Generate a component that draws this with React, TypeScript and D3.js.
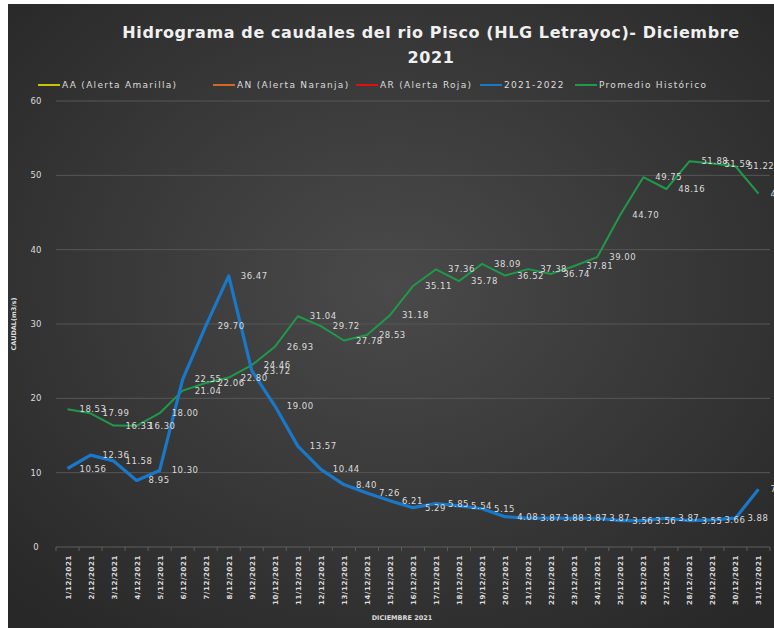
import React from 'react';
import * as d3 from 'd3';

const dias = d3.range(1, 32).map(d => `${d}/12/2021`);

const serie2021 = [
  10.56, 12.36, 11.58, 8.95, 10.3, 22.55, 29.7, 36.47, 23.72, 19.0, 13.57,
  10.44, 8.4, 7.26, 6.21, 5.29, 5.85, 5.54, 5.15, 4.08, 3.87, 3.88, 3.87,
  3.87, 3.56, 3.56, 3.87, 3.55, 3.66, 3.88, 7.76
];

const promedioHistorico = [
  18.53, 17.99, 16.33, 16.3, 18.0, 21.04, 22.06, 22.8, 24.46, 26.93, 31.04,
  29.72, 27.78, 28.53, 31.18, 35.11, 37.36, 35.78, 38.09, 36.52, 37.38, 36.74,
  37.81, 39.0, 44.7, 49.75, 48.16, 51.88, 51.59, 51.22, 47.53
];

const yTicks = [0, 10, 20, 30, 40, 50, 60];

const leyenda = [
  { nombre: 'AA (Alerta Amarilla)', color: '#c9c400' },
  { nombre: 'AN (Alerta Naranja)', color: '#d2691e' },
  { nombre: 'AR (Alerta Roja)', color: '#e01010' },
  { nombre: '2021-2022', color: '#1a78c8' },
  { nombre: 'Promedio Histórico', color: '#1e9a4a' }
];

const W = 774;
const H = 628;
const FONT = '"DejaVu Sans", sans-serif';
const LABEL = '#dcdcdc';

export default function App() {
  const margin = { top: 101, right: 4, bottom: 81, left: 56 };

  const x = d3.scaleBand<string>()
    .domain(dias)
    .range([margin.left, W - margin.right]);
  const cx = (i: number) => (x(dias[i]) as number) + x.bandwidth() / 2;

  const y = d3.scaleLinear()
    .domain([0, 60])
    .range([H - margin.bottom, margin.top]);

  const line = d3.line<number>()
    .x((_, i) => cx(i))
    .y(d => y(d));

  // legend layout (line sample + text)
  const legendX = [38, 213, 356, 480, 575];

  return (
    <div style={{ position: 'absolute', left: 0, top: 0 }}>
      <svg width={W} height={H} style={{ display: 'block' }}>
        <defs>
          <radialGradient id="bg" cx="50%" cy="45%" r="70%">
            <stop offset="0%" stopColor="#4a4a4a" />
            <stop offset="100%" stopColor="#282828" />
          </radialGradient>
        </defs>
        <rect x={0} y={0} width={W} height={H} fill="#ffffff" />
        <rect x={8} y={4} width={W - 8} height={H - 4} fill="url(#bg)" />

        {/* title */}
        <text x={431} y={38} textAnchor="middle" fill="#f0f0f0" fontFamily={FONT}
          fontWeight="bold" fontSize={16} letterSpacing={0.6}>
          Hidrograma de caudales del rio Pisco (HLG Letrayoc)- Diciembre
        </text>
        <text x={431} y={63} textAnchor="middle" fill="#f0f0f0" fontFamily={FONT}
          fontWeight="bold" fontSize={16} letterSpacing={0.6}>
          2021
        </text>

        {/* legend */}
        {leyenda.map((l, i) => (
          <g key={l.nombre}>
            <line x1={legendX[i]} x2={legendX[i] + 22} y1={85} y2={85}
              stroke={l.color} strokeWidth={2} />
            <text x={legendX[i] + 24} y={85} dominantBaseline="central" fill={LABEL}
              fontFamily={FONT} fontSize={9} letterSpacing={1.3}>
              {l.nombre}
            </text>
          </g>
        ))}

        {/* gridlines + y labels */}
        {yTicks.map(t => (
          <g key={t}>
            {t > 0 && (
              <line x1={margin.left} x2={W - margin.right} y1={y(t)} y2={y(t)}
                stroke="#575757" strokeWidth={1} />
            )}
            <text x={36} y={y(t)} textAnchor="middle" dominantBaseline="central"
              fill={LABEL} fontFamily={FONT} fontSize={8.5}>
              {t}
            </text>
          </g>
        ))}

        {/* x axis */}
        <line x1={margin.left} x2={W - margin.right} y1={y(0)} y2={y(0)}
          stroke="#5e5e5e" strokeWidth={1} />
        {d3.range(dias.length + 1).map(i => {
          const xx = margin.left + i * x.step();
          return (
            <line key={i} x1={xx} x2={xx} y1={y(0)} y2={y(0) + 4}
              stroke="#5e5e5e" strokeWidth={1} />
          );
        })}
        {dias.map((d, i) => (
          <text key={d} transform={`translate(${cx(i) + 3},${y(0) + 8}) rotate(-90)`}
            textAnchor="end" fill={LABEL} fontFamily={FONT} fontSize={7}
            fontWeight="bold" letterSpacing={0.6}>
            {d}
          </text>
        ))}

        <text x={402} y={620} textAnchor="middle" fill={LABEL} fontFamily={FONT}
          fontSize={6.5} fontWeight="bold">
          DICIEMBRE 2021
        </text>
        <text transform={`translate(16,${(y(0) + y(60)) / 2}) rotate(-90)`}
          textAnchor="middle" fill={LABEL} fontFamily={FONT} fontSize={6.5}
          fontWeight="bold">
          CAUDAL(m3/s)
        </text>

        {/* series */}
        <path d={line(promedioHistorico) || ''} fill="none" stroke="#1e9a4a"
          strokeWidth={2} strokeLinejoin="round" />
        <path d={line(serie2021) || ''} fill="none" stroke="#1a78c8"
          strokeWidth={3.2} strokeLinejoin="round" />

        {/* data labels */}
        {promedioHistorico.map((v, i) => (
          <text key={'p' + i} x={cx(i) + 12} y={y(v)} dominantBaseline="central"
            fill={LABEL} fontFamily={FONT} fontSize={8.5} letterSpacing={0.5}>
            {v.toFixed(2)}
          </text>
        ))}
        {serie2021.map((v, i) => (
          <text key={'s' + i} x={cx(i) + 12} y={y(v)} dominantBaseline="central"
            fill={LABEL} fontFamily={FONT} fontSize={8.5} letterSpacing={0.5}>
            {v.toFixed(2)}
          </text>
        ))}
      </svg>
    </div>
  );
}
